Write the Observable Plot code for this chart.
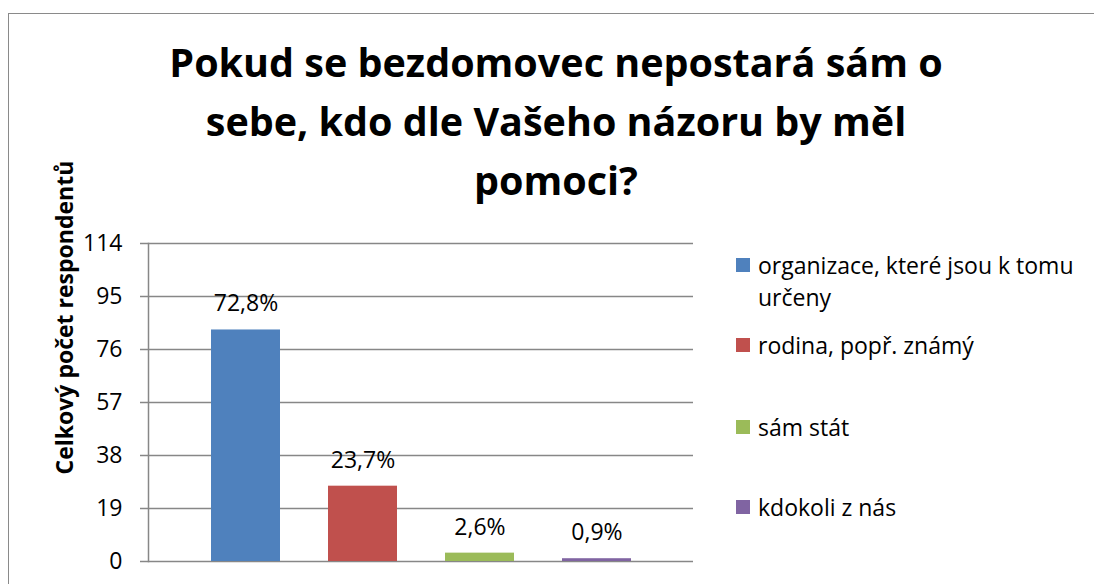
<!DOCTYPE html>
<html>
<head>
<meta charset="utf-8">
<script src="https://cdn.jsdelivr.net/npm/d3@7"></script>
<script src="https://cdn.jsdelivr.net/npm/@observablehq/plot@0.6"></script>
<style>
  html, body { margin: 0; padding: 0; background: #fff; overflow: hidden; }
  body { width: 1094px; height: 584px; position: relative; font-family: "Open Sans", sans-serif; }
  #frame { position: absolute; left: 8px; top: 13px; width: 1200px; height: 700px; border: 1.5px solid #8a8a8a; box-sizing: border-box; }
  #title { position: absolute; left: 56px; width: 1000px; top: 33px; text-align: center; font-weight: bold; font-size: 39.5px; line-height: 59px; color: #000; }
  #chart { position: absolute; left: 0; top: 0; }
  #legend { position: absolute; left: 736px; top: 0; font-size: 23px; color: #000; }
  .item { position: absolute; left: 0; width: 350px; }
  .sw { position: absolute; left: 0; width: 14px; height: 14px; }
  .lt { position: absolute; left: 22px; line-height: 32px; white-space: nowrap; }
</style>
</head>
<body>
<div id="frame"></div>
<div id="title">Pokud se bezdomovec nepostará sám o<br>sebe, kdo dle Vašeho názoru by měl<br>pomoci?</div>
<div id="chart"></div>
<div id="legend"></div>
<script>
const categories = ["organizace, které jsou k tomu určeny", "rodina, popř. známý", "sám stát", "kdokoli z nás"];
const legendLines = [["organizace, které jsou k tomu", "určeny"], ["rodina, popř. známý"], ["sám stát"], ["kdokoli z nás"]];
const counts = [83, 27, 3, 1];
const percentLabels = ["72,8%", "23,7%", "2,6%", "0,9%"];
const yTicks = [0, 19, 38, 57, 76, 95, 114];
const colors = ["#4F81BD", "#C0504D", "#9BBB59", "#8064A2"];
const yLabel = "Celkový počet respondentů";

const data = categories.map((c, i) => ({category: c, count: counts[i], label: percentLabels[i]}));
const grid = "#878787";

const chart = Plot.plot({
  width: 1094,
  height: 584,
  marginLeft: 148,
  marginRight: 401,
  marginTop: 243,
  marginBottom: 23,
  style: {fontFamily: "'Open Sans', sans-serif", fontSize: "23px", color: "#000", background: "transparent"},
  x: {domain: categories, paddingInner: 0.414, paddingOuter: 0.522, axis: null},
  y: {domain: [0, 114], ticks: yTicks, label: null},
  color: {domain: categories, range: colors},
  marks: [
    Plot.ruleY(yTicks, {stroke: grid, strokeWidth: 1.5}),
    Plot.axisY({ticks: yTicks, tickSize: 8, tickPadding: 18, stroke: grid, strokeWidth: 1.5, strokeOpacity: 1, fontSize: 23, fill: "#000", label: null, tickFormat: d => String(d)}),
    Plot.frame({anchor: "left", stroke: grid, strokeWidth: 1.5}),
    Plot.barY(data, {x: "category", y: "count", fill: "category"}),
    Plot.text(data, {x: "category", y: "count", text: "label", dy: -26, fontSize: 23, fill: "#000", lineAnchor: "middle"}),
    Plot.text([yLabel], {frameAnchor: "left", dx: -83, dy: 72, rotate: -90, fontWeight: "bold", fontSize: 23, fill: "#000"})
  ]
});
document.getElementById("chart").appendChild(chart);

const legendTops = [265, 345, 427, 507];
const legend = document.getElementById("legend");
categories.forEach((c, i) => {
  const item = document.createElement("div");
  item.className = "item";
  item.style.top = (legendTops[i] - 16) + "px";
  const sw = document.createElement("div");
  sw.className = "sw";
  sw.style.background = colors[i];
  sw.style.top = "9px";
  item.appendChild(sw);
  const t = document.createElement("div");
  t.className = "lt";
  t.innerHTML = legendLines[i].join("<br>");
  item.appendChild(t);
  legend.appendChild(item);
});
</script>
</body>
</html>
